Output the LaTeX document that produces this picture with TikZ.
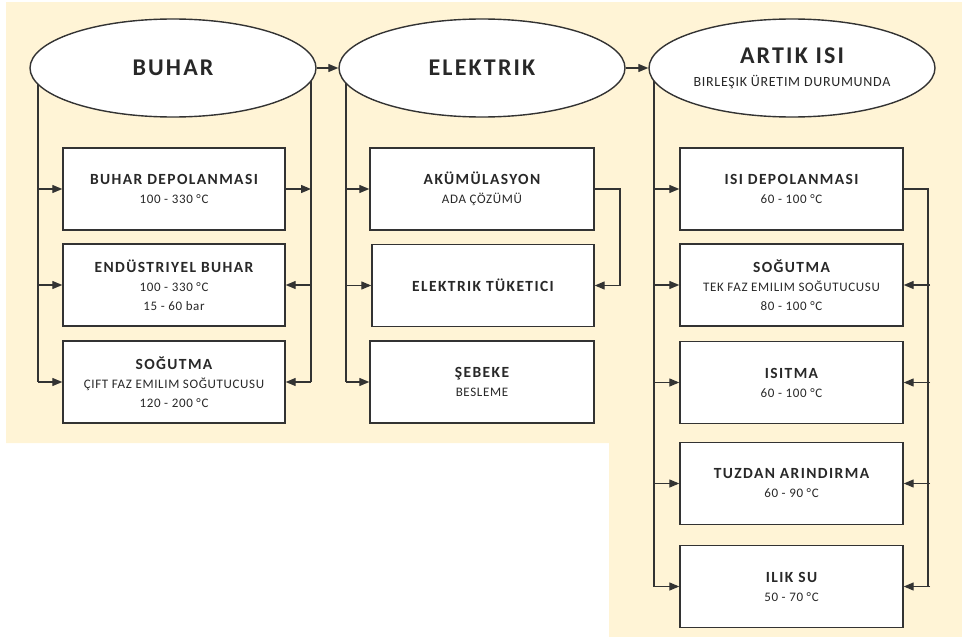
\documentclass[tikz,border=0pt]{standalone}
\usepackage{fontspec}
\setmainfont{Carlito}
\newfontfamily\hdfont[LetterSpace=9]{Carlito}
\newfontfamily\subfont[LetterSpace=5]{Carlito}
\newcommand\bxhd{\hdfont\bfseries\fontsize{15.5}{19}\selectfont}
\newcommand\ovhd{\hdfont\bfseries\fontsize{24}{26}\selectfont}
\newcommand\ovsub{\subfont\fontsize{14}{16}\selectfont}
\usetikzlibrary{shapes.geometric,arrows.meta}
\definecolor{cream}{RGB}{255,244,214}
\definecolor{ink}{RGB}{51,51,51}
\definecolor{txt}{RGB}{40,40,40}
\pgfdeclarelayer{bg}
\pgfdeclarelayer{lines}
\pgfsetlayers{bg,lines,main}
\begin{document}
\begin{tikzpicture}[x=1pt,y=-1pt,
  oval/.style={ellipse,draw=ink,line width=1.4pt,fill=white,minimum width=286pt,minimum height=98pt,inner sep=0pt,text=txt,align=center},
  box/.style={draw=ink,line width=1.4pt,fill=white,minimum height=82pt,inner sep=0pt,text=txt,align=center,font=\subfont\fontsize{13}{19}\selectfont},
  conn/.style={draw=ink,line width=1.3pt},
  arr/.style={conn,-{Triangle[length=10pt,width=8pt]}}]
\useasboundingbox (0,0) rectangle (962,637);
\begin{pgfonlayer}{bg}
\fill[cream] (6,2) -- (962,2) -- (962,637) -- (609,637) -- (609,443) -- (6,443) -- cycle;
\end{pgfonlayer}
% ovals
\node[oval] (buhar) at (173,68) {\ovhd BUHAR};
\node[oval] (elektrik) at (482,68) {\ovhd ELEKTRIK};
\node[oval] (artik) at (792,68) {{\ovhd ARTIK ISI}\\[11pt]{\ovsub BIRLEŞIK ÜRETIM DURUMUNDA}};
\draw[arr] (buhar) -- (elektrik);
\draw[arr] (elektrik) -- (artik);
% column 1
\node[box,minimum width=222pt] (b11) at (174,189) {{\bxhd BUHAR DEPOLANMASI}\\100 - 330 °C};
\node[box,minimum width=222pt] (b12) at (174,285) {{\bxhd ENDÜSTRIYEL BUHAR}\\100 - 330 °C\\15 - 60 bar};
\node[box,minimum width=222pt] (b13) at (174,382) {{\bxhd SOĞUTMA}\\ÇIFT FAZ EMILIM SOĞUTUCUSU\\120 - 200 °C};
% column 2
\node[box,minimum width=224pt] (b21) at (482,189) {{\bxhd AKÜMÜLASYON}\\ADA ÇÖZÜMÜ};
\node[box,minimum width=222pt] (b22) at (483,285.5) {\bxhd ELEKTRIK TÜKETICI};
\node[box,minimum width=224pt] (b23) at (482,382) {{\bxhd ŞEBEKE}\\BESLEME};
% column 3
\node[box,minimum width=223pt] (b31) at (791.5,189) {{\bxhd ISI DEPOLANMASI}\\60 - 100 °C};
\node[box,minimum width=223pt] (b32) at (791.5,285) {{\bxhd SOĞUTMA}\\TEK FAZ EMILIM SOĞUTUCUSU\\80 - 100 °C};
\node[box,minimum width=223pt] (b33) at (791.5,382.5) {{\bxhd ISITMA}\\60 - 100 °C};
\node[box,minimum width=223pt] (b34) at (791.5,483.5) {{\bxhd TUZDAN ARINDIRMA}\\60 - 90 °C};
\node[box,minimum width=223pt] (b35) at (791.5,586.5) {{\bxhd ILIK SU}\\50 - 70 °C};
% rails
\coordinate (l1) at (38,0);
\coordinate (r1) at (311,0);
\coordinate (l2) at (346,0);
\coordinate (r2) at (620,0);
\coordinate (l3) at (654,0);
\coordinate (r3) at (928,0);
\begin{pgfonlayer}{lines}
\draw[conn] (buhar.center -| l1) -- (b13.west -| l1);
\draw[conn] (buhar.center -| r1) -- (b13.east -| r1);
\draw[conn] (elektrik.center -| l2) -- (b23.west -| l2);
\draw[conn] (artik.center -| l3) -- (b35.west -| l3);
\end{pgfonlayer}
\foreach \b in {b11,b12,b13}{\draw[arr] (\b.west -| l1) -- (\b.west);}
\foreach \b in {b21,b22,b23}{\draw[arr] (\b.west -| l2) -- (\b.west);}
\foreach \b in {b31,b32,b33,b34,b35}{\draw[arr] (\b.west -| l3) -- (\b.west);}
\draw[arr] (b11.east) -- (b11.east -| r1);
\foreach \b in {b12,b13}{\draw[arr] (\b.east -| r1) -- (\b.east);}
\draw[arr] (b21.east) -- (b21.east -| r2) |- (b22.east);
\draw[conn] (b31.east) -- (b31.east -| r3) -- (b35.east -| r3);
\foreach \b in {b32,b33,b34,b35}{\draw[arr] ([xshift=2pt]\b.east -| r3) -- (\b.east);}
\end{tikzpicture}
\end{document}
